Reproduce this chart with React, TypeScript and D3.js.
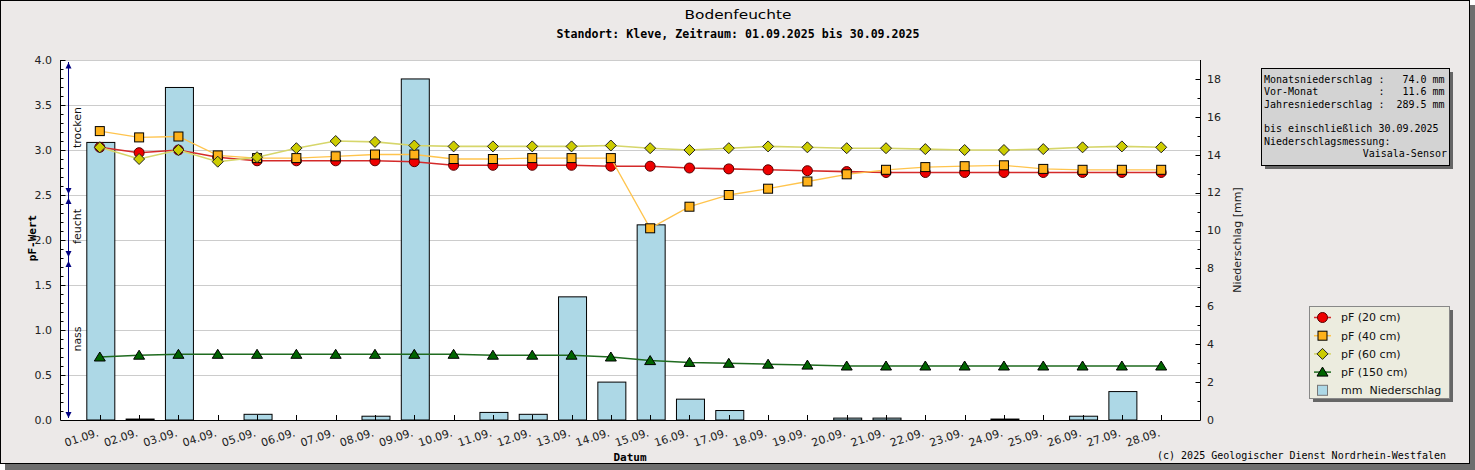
import React from "react";
import * as d3 from "d3";

const days = ["01.09.","02.09.","03.09.","04.09.","05.09.","06.09.","07.09.","08.09.","09.09.","10.09.","11.09.","12.09.","13.09.","14.09.","15.09.","16.09.","17.09.","18.09.","19.09.","20.09.","21.09.","22.09.","23.09.","24.09.","25.09.","26.09.","27.09.","28.09."];
const pf20 = [3.03,2.97,3.0,2.92,2.88,2.88,2.88,2.88,2.87,2.83,2.83,2.83,2.83,2.82,2.82,2.80,2.79,2.78,2.77,2.76,2.75,2.75,2.75,2.75,2.75,2.75,2.75,2.75];
const pf40 = [3.21,3.14,3.15,2.94,2.91,2.91,2.93,2.95,2.95,2.90,2.90,2.91,2.91,2.91,2.13,2.37,2.50,2.57,2.65,2.73,2.78,2.81,2.82,2.83,2.79,2.78,2.78,2.78];
const pf60 = [3.03,2.90,3.0,2.87,2.92,3.02,3.10,3.09,3.05,3.04,3.04,3.04,3.04,3.05,3.02,3.0,3.02,3.04,3.03,3.02,3.02,3.01,3.0,3.0,3.01,3.03,3.04,3.03];
const pf150 = [0.70,0.72,0.73,0.73,0.73,0.73,0.73,0.73,0.73,0.73,0.72,0.72,0.72,0.70,0.66,0.64,0.63,0.62,0.61,0.60,0.60,0.60,0.60,0.60,0.60,0.60,0.60,0.60];
const rain = [14.65,0.05,17.55,0,0.3,0,0,0.2,18.0,0,0.4,0.3,6.5,2.0,10.3,1.1,0.5,0,0,0.1,0.1,0,0,0.05,0,0.2,1.5,0];
const leftTicks = [0,0.5,1,1.5,2,2.5,3,3.5,4];
const rightTicks = [0,2,4,6,8,10,12,14,16,18];
const zones = [
  { from: 0, to: 1.8, label: "nass" },
  { from: 1.8, to: 2.5, label: "feucht" },
  { from: 2.5, to: 4.0, label: "trocken" },
];
const infoLines = [
  "Monatsniederschlag :   74.0 mm",
  "Vor-Monat          :   11.6 mm",
  "Jahresniederschlag :  289.5 mm",
  "",
  "bis einschließlich 30.09.2025",
  "Niederschlagsmessung:",
];
const infoLast = "Vaisala-Sensor";
const legendItems = ["pF (20 cm)", "pF (40 cm)", "pF (60 cm)", "pF (150 cm)", "mm  Niederschlag"];

const L = 60.5, R = 1200.5, T = 60, B = 420;
const MONO = "'DejaVu Sans Mono', monospace";
const SANS = "'DejaVu Sans', sans-serif";

function Marker({ kind, x, y }: { kind: string; x: number; y: number }) {
  if (kind === "circle") return <circle cx={x} cy={y} r={5} fill="#ee0000" stroke="#550000" strokeWidth={1} />;
  if (kind === "square") return <rect x={x - 4.5} y={y - 4.5} width={9} height={9} fill="#ffb21a" stroke="#000" strokeWidth={1} />;
  if (kind === "diamond") return <path d={`M${x},${y - 5.5}L${x + 5.5},${y}L${x},${y + 5.5}L${x - 5.5},${y}Z`} fill="#cccc00" stroke="#222" strokeWidth={1} />;
  return <path d={`M${x},${y - 5}L${x + 5.5},${y + 4}L${x - 5.5},${y + 4}Z`} fill="#006400" stroke="#000" strokeWidth={1} />;
}

export default function App() {
  const x = d3.scaleLinear().domain([0, 29]).range([L, R]);
  const y = d3.scaleLinear().domain([0, 4]).range([B, T]);
  const y2 = d3.scaleLinear().domain([0, 19]).range([B, T]);
  const idx = days.map((_, i) => i + 1);
  const barW = 28;

  const series = [
    { data: pf20, color: "#d42a2a", kind: "circle", w: 1.6 },
    { data: pf40, color: "#ffc44d", kind: "square", w: 1.3 },
    { data: pf60, color: "#d6d66a", kind: "diamond", w: 1.6 },
    { data: pf150, color: "#1f6b1f", kind: "triangle", w: 1.5 },
  ];
  const line = d3.line<number>().x((_, i) => x(i + 1)).y((d) => y(d));

  const minorLeft = d3.range(0, 40.5, 1).map((v) => v / 10);
  const minorRight = d3.range(0, 19, 1);

  return (
    <div>
      <style>{`body{margin:0}`}</style>
      <svg width={1475} height={470} style={{ display: "block" }}>
        {/* frame and shadow */}
        <rect x={5} y={5} width={1470} height={465} fill="#6e6e6e" />
        <rect x={0.5} y={0.5} width={1469} height={463} fill="#ece9e8" stroke="#000" />
        {/* plot area */}
        <rect x={L} y={T} width={R - L} height={B - T} fill="#fff" />
        {leftTicks.slice(1).map((t) => (
          <line key={t} x1={L} x2={R} y1={Math.round(y(t)) + 0.5} y2={Math.round(y(t)) + 0.5} stroke="#cccccc" />
        ))}
        {/* bars */}
        {rain.map((v, i) =>
          v > 0 ? (
            <rect key={i} x={x(i + 1) - barW / 2 + 1} y={y2(v)} width={barW} height={B - y2(v)} fill="#add8e6" stroke="#000" strokeWidth={1} />
          ) : null
        )}
        {/* series */}
        {series.map((s, si) => (
          <g key={si}>
            <path d={line(s.data) || ""} fill="none" stroke={s.color} strokeWidth={s.w} />
            {s.data.map((v, i) => (
              <Marker key={i} kind={s.kind} x={x(i + 1)} y={y(v)} />
            ))}
          </g>
        ))}
        {/* axes */}
        <line x1={L} x2={L} y1={T} y2={B} stroke="#000" />
        <line x1={R} x2={R} y1={T} y2={B} stroke="#000" />
        <line x1={L} x2={R} y1={B + 0.5} y2={B + 0.5} stroke="#000" />
        {minorLeft.map((t, i) => (
          <line key={i} x1={L} x2={L + (i % 5 === 0 ? 5 : 3)} y1={Math.round(y(t)) + 0.5} y2={Math.round(y(t)) + 0.5} stroke="#000" />
        ))}
        {minorRight.map((t) => (
          <line key={t} x1={R} x2={R - (t % 2 === 0 ? 5 : 3)} y1={Math.round(y2(t)) + 0.5} y2={Math.round(y2(t)) + 0.5} stroke="#000" />
        ))}
        {idx.map((d) => (
          <line key={d} x1={Math.round(x(d)) + 0.5} x2={Math.round(x(d)) + 0.5} y1={B} y2={B - 5} stroke="#000" />
        ))}
        {leftTicks.map((t) => (
          <text key={t} x={52} y={y(t)} dy="0.35em" textAnchor="end" fontFamily={SANS} fontSize={11} fill="#222">{t.toFixed(1)}</text>
        ))}
        {rightTicks.map((t) => (
          <text key={t} x={1207} y={y2(t)} dy="0.35em" textAnchor="start" fontFamily={SANS} fontSize={11} fill="#222">{t}</text>
        ))}
        {days.map((d, i) => (
          <text key={d} transform={`translate(${x(i + 1) - 3},${428}) rotate(-18)`} dy="0.75em" textAnchor="end" fontFamily={SANS} fontSize={11} fill="#222">{d}</text>
        ))}
        {/* zones */}
        <line x1={68.5} x2={68.5} y1={y(4) + 2} y2={y(0) - 2} stroke="#000080" />
        {zones.map((z) => {
          const ut = y(z.to) + (z.to === 4 ? 2.5 : 3);
          const dt = y(z.from) - (z.from === 0 ? 2 : 1);
          const cy = (y(z.from) + y(z.to)) / 2;
          return (
            <g key={z.label}>
              <path d={`M68.5,${ut}L71.5,${ut + 6}L65.5,${ut + 6}Z`} fill="#000080" />
              <path d={`M68.5,${dt}L71.5,${dt - 6}L65.5,${dt - 6}Z`} fill="#000080" />
              <text transform={`translate(81,${cy}) rotate(-90)`} textAnchor="middle" fontFamily={SANS} fontSize={11} fill="#111">{z.label}</text>
            </g>
          );
        })}
        {/* titles */}
        <text x={738} y={19} textAnchor="middle" fontFamily={SANS} fontSize={13} textLength={107} lengthAdjust="spacingAndGlyphs" fill="#000">Bodenfeuchte</text>
        <text x={738} y={38} textAnchor="middle" fontFamily={MONO} fontWeight="bold" fontSize={12} textLength={363} lengthAdjust="spacingAndGlyphs" fill="#000">Standort: Kleve, Zeitraum: 01.09.2025 bis 30.09.2025</text>
        <text x={630} y={461} textAnchor="middle" fontFamily={MONO} fontWeight="bold" fontSize={11} fill="#000">Datum</text>
        <text transform={`translate(36,238) rotate(-90)`} textAnchor="middle" fontFamily={MONO} fontWeight="bold" fontSize={11} fill="#000">pF-Wert</text>
        <text transform={`translate(1241,240) rotate(-90)`} textAnchor="middle" fontFamily={SANS} fontSize={11} fill="#222">Niederschlag [mm]</text>
        <text x={1446} y={459} textAnchor="end" fontFamily={MONO} fontSize={10} fill="#000">(c) 2025 Geologischer Dienst Nordrhein-Westfalen</text>
        {/* info box */}
        <rect x={1265} y={72} width={188} height={97} fill="#666" />
        <rect x={1261.5} y={68.5} width={188} height={97} fill="#d3d3d3" stroke="#000" />
        {infoLines.map((t, i) => (
          <text key={i} x={1264} y={83 + i * 12.3} fontFamily={MONO} fontSize={10} fill="#000" style={{ whiteSpace: "pre" }}>{t}</text>
        ))}
        <text x={1447} y={83 + 6 * 12.3} textAnchor="end" fontFamily={MONO} fontSize={10} fill="#000">{infoLast}</text>
        {/* legend */}
        <rect x={1313} y={310} width={140} height={92} fill="#666" />
        <rect x={1309.5} y={306.5} width={140} height={92} fill="#ececdf" stroke="#888" />
        {legendItems.map((t, i) => {
          const cy = 317.5 + i * 18.2;
          const s = series[i];
          return (
            <g key={t}>
              {s ? (
                <>
                  <line x1={1314} x2={1331} y1={cy} y2={cy} stroke={s.color} strokeWidth={1.5} />
                  <Marker kind={s.kind} x={1322.5} y={cy} />
                </>
              ) : (
                <rect x={1317.5} y={cy - 5} width={10} height={10} fill="#add8e6" stroke="#777" />
              )}
              <text x={1341} y={cy} dy="0.35em" fontFamily={SANS} fontSize={11} fill="#111" style={{ whiteSpace: "pre" }}>{t}</text>
            </g>
          );
        })}
      </svg>
    </div>
  );
}
